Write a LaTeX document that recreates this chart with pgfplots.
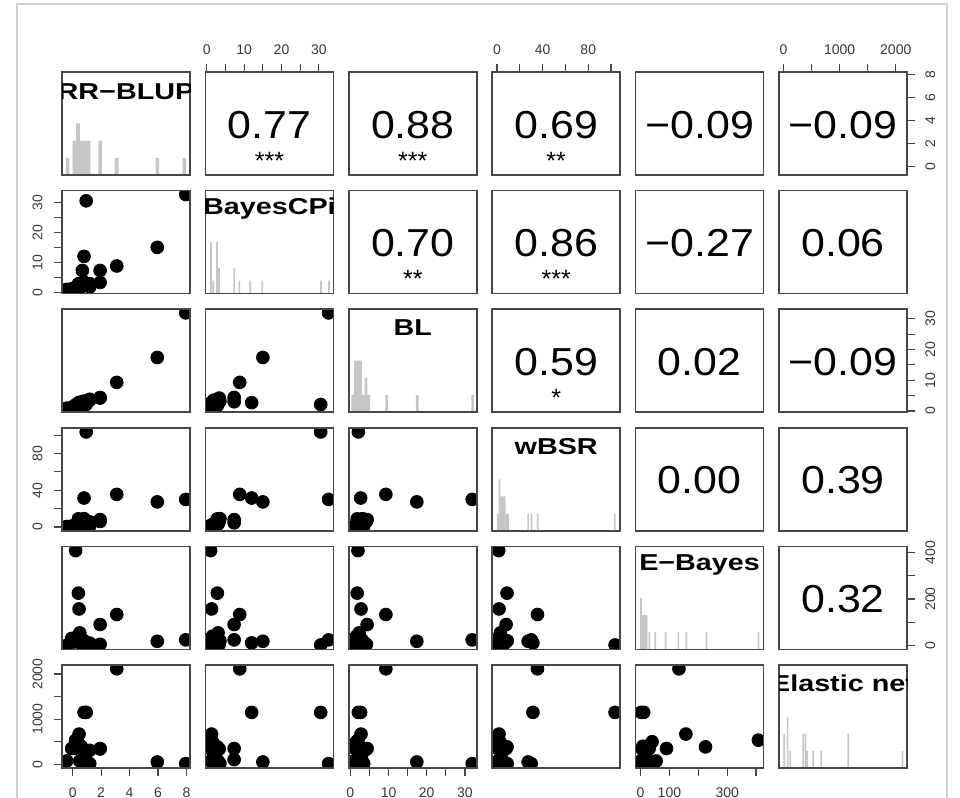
\documentclass[border=0pt]{standalone}
\usepackage{fontspec}
\setmainfont{Liberation Sans}
\usepackage{pgfplots}
\usepackage{pgfplotstable}
\pgfplotsset{compat=1.18}

\pgfplotstableread{
R C L W E N
7.95 32.6 31.9 30 24 15
5.95 15 17.4 27.3 18 52
3.1 8.8 9.3 35.5 133 2115
0.95 30.5 2.1 103.5 2 1150
0.8 12 2.7 31.5 11 1150
1.93 7.3 4.4 8 90 350
0.68 7.3 3.0 4.5 24 105
0.21 1.0 2.0 1.5 408 535
0.4 2.8 1.8 8.8 225 386
0.45 1.25 2.8 1.8 157 670
1.93 3.3 4.2 6 5 340
1.2 2.9 3.8 5.5 10 310
1.2 1.8 3.5 1 3 15
-0.42 1.0 0.9 0.5 0 73
-0.07 1.2 1.2 1 30 350
0.5 3.0 2.3 3 54 73
0.8 3.5 3.2 9 20 15
0.35 1.5 1.6 2.5 40 500
0.6 2.0 2.2 4 8 400
0.1 0.8 1.4 0.8 15 350
}\data

\pgfplotstableread{
x c
-0.35 1
0.125 2
0.375 3
0.625 2
0.875 2
1.125 2
1.93 2
3.1 1
5.95 1
7.85 1
}\hR
\pgfplotstableread{
x c
1.1 4
1.7 1
2.7 4
3.25 2
7.3 2
8.7 1
11.6 1
14.8 1
30.6 1
32.7 1
}\hC
\pgfplotstableread{
x c
0.6 1
1.3 3
2.0 3
2.7 3
3.4 1
4.1 2
4.8 1
9.5 1
17.5 1
32.0 1
}\hL
\pgfplotstableread{
x c
0.75 1
2.25 3
3.75 2
5.25 2
6.75 2
8.25 1
9.75 1
27.3 1
30.2 1
35.8 1
103.3 1
}\hW
\pgfplotstableread{
x c
2 3
9 2
15 2
21 2
31 1
51 1
87 1
131 1
158 1
228 1
408 1
}\hE
\pgfplotstableread{
x c
10 2
72 3
120 1
348 2
389 2
420 1
527 1
670 1
1154 2
2120 1
}\hN

\pgfplotsset{
 panel/.style={scale only axis, width=64pt, height=51.5pt, anchor=north west,
   axis line style={black!72, line width=0.75pt}, xtick=\empty, ytick=\empty,
   tick align=outside, major tick length=4.2pt,
   tick style={black!72, line width=0.6pt},
   ticklabel style={font=\fontsize{7}{8}\selectfont, text=black!78},
   clip marker paths=true, axis on top},
 pts/.style={only marks, mark=*, mark size=3.2pt, mark options={fill=black, draw=black}},
 xR/.style={xmin=-0.75,xmax=8.25}, yR/.style={ymin=-0.75,ymax=8.25},
 xC/.style={xmin=-0.4,xmax=33.9}, yC/.style={ymin=-0.4,ymax=33.9},
 xL/.style={xmin=-0.4,xmax=33.1}, yL/.style={ymin=-0.4,ymax=33.1},
 xW/.style={xmin=-4.2,xmax=108}, yW/.style={ymin=-4.2,ymax=108},
 xE/.style={xmin=-17,xmax=426}, yE/.style={ymin=-17,ymax=426},
 xN/.style={xmin=-82,xmax=2200}, yN/.style={ymin=-82,ymax=2200},
 topC/.style={xtick pos=right, xticklabel pos=right, xticklabel shift=1pt, xtick={0,5,...,30}, xticklabels={0,,10,,20,,30}},
 topW/.style={xtick pos=right, xticklabel pos=right, xticklabel shift=1pt, xtick={0,20,...,100}, xticklabels={0,,40,,80,}},
 topN/.style={xtick pos=right, xticklabel pos=right, xticklabel shift=1pt, xtick={0,500,...,2000}, xticklabels={0,,1000,,2000}},
 botR/.style={xtick pos=left, xticklabel pos=left, xticklabel shift=2pt, xtick={0,2,4,6,8}, xticklabels={0,2,4,6,8}},
 botL/.style={xtick pos=left, xticklabel pos=left, xticklabel shift=2pt, xtick={0,5,...,30}, xticklabels={0,,10,,20,,30}},
 botE/.style={xtick pos=left, xticklabel pos=left, xticklabel shift=2pt, xtick={0,100,...,400}, xticklabels={0,100,,300,}},
 leftC/.style={ytick pos=left, yticklabel pos=left, yticklabel shift=2pt, ytick={0,5,...,30}, yticklabels={0,,10,,20,,30}, yticklabel style={rotate=90, anchor=south}},
 leftW/.style={ytick pos=left, yticklabel pos=left, yticklabel shift=2pt, ytick={0,20,...,100}, yticklabels={0,,40,,80,}, yticklabel style={rotate=90, anchor=south}},
 leftN/.style={ytick pos=left, yticklabel pos=left, yticklabel shift=2pt, ytick={0,500,...,2000}, yticklabels={0,,1000,,2000}, yticklabel style={rotate=90, anchor=south}},
 rightR/.style={ytick pos=right, yticklabel pos=right, yticklabel shift=1.5pt, ytick={0,2,4,6,8}, yticklabels={0,2,4,6,8}, yticklabel style={rotate=90, anchor=north}},
 rightL/.style={ytick pos=right, yticklabel pos=right, yticklabel shift=1.5pt, ytick={0,5,...,30}, yticklabels={0,,10,,20,,30}, yticklabel style={rotate=90, anchor=north}},
 rightE/.style={ytick pos=right, yticklabel pos=right, yticklabel shift=1.5pt, ytick={0,100,...,400}, yticklabels={0,,200,,400}, yticklabel style={rotate=90, anchor=north}},
}

\newcommand\scat[4]{\begin{axis}[panel,at={(#1)},x#2,y#3,#4]\addplot[pts] table[x=#2,y=#3]{\data};\end{axis}}
\newcommand\hist[5]{\begin{axis}[panel,at={(#1)},x#2,ymin=0,ymax=#5]\addplot[ybar,bar width=#4,bar shift=0pt,fill=gray!45,draw=none] table[x=x,y=c]{#3};\end{axis}}
\newcommand\upper[2]{\begin{axis}[panel,at={(#1)},#2]\end{axis}}
\newcommand\corr[4]{\node[anchor=base,inner sep=0,xscale=1.1,font=\fontsize{19.5}{20}\selectfont] at (#1pt+32pt,#2pt-33pt) {#3};
  \node[anchor=base,inner sep=0,font=\fontsize{12.5}{13}\selectfont] at (#1pt+32pt,#2pt-48.5pt) {#4};}
\newcommand\lab[4]{\begin{scope}\clip (#1pt,#2pt) rectangle ++(64pt,-51.5pt);
  \node[anchor=base,inner sep=0,xscale=1.25,font=\bfseries\fontsize{11.5}{12}\selectfont] at (#1pt+32pt,#2pt-#3pt) {#4};\end{scope}}

\begin{document}
\begin{tikzpicture}
\useasboundingbox (0,0) rectangle (480pt,-399pt);
\draw[black!18, line width=0.6pt] (8.5pt,-399pt) -- (8.5pt,-2pt) -- (473.5pt,-2pt) -- (473.5pt,-399pt);

% row 0
\hist{31pt,-36pt}{R}{\hR}{0.25}{6}
\upper{102.7pt,-36pt}{xC,yR,topC}
\upper{174.4pt,-36pt}{xL,yR}
\upper{246.1pt,-36pt}{xW,yR,topW}
\upper{317.8pt,-36pt}{xE,yR}
\upper{389.5pt,-36pt}{xN,yR,topN,rightR}
% row 1
\scat{31pt,-95.3pt}{R}{C}{leftC}
\hist{102.7pt,-95.3pt}{C}{\hC}{0.45}{8}
\upper{174.4pt,-95.3pt}{xL,yC}
\upper{246.1pt,-95.3pt}{xW,yC}
\upper{317.8pt,-95.3pt}{xE,yC}
\upper{389.5pt,-95.3pt}{xN,yC}
% row 2
\scat{31pt,-154.6pt}{R}{L}{}
\scat{102.7pt,-154.6pt}{C}{L}{}
\hist{174.4pt,-154.6pt}{L}{\hL}{0.7}{6}
\upper{246.1pt,-154.6pt}{xW,yL}
\upper{317.8pt,-154.6pt}{xE,yL}
\upper{389.5pt,-154.6pt}{xN,yL,rightL}
% row 3
\scat{31pt,-213.9pt}{R}{W}{leftW}
\scat{102.7pt,-213.9pt}{C}{W}{}
\scat{174.4pt,-213.9pt}{L}{W}{}
\hist{246.1pt,-213.9pt}{W}{\hW}{1.5}{6}
\upper{317.8pt,-213.9pt}{xE,yW}
\upper{389.5pt,-213.9pt}{xN,yW}
% row 4
\scat{31pt,-273.2pt}{R}{E}{}
\scat{102.7pt,-273.2pt}{C}{E}{}
\scat{174.4pt,-273.2pt}{L}{E}{}
\scat{246.1pt,-273.2pt}{W}{E}{}
\hist{317.8pt,-273.2pt}{E}{\hE}{6}{6}
\upper{389.5pt,-273.2pt}{xN,yE,rightE}
% row 5
\scat{31pt,-332.5pt}{R}{N}{leftN,botR}
\scat{102.7pt,-332.5pt}{C}{N}{}
\scat{174.4pt,-332.5pt}{L}{N}{botL}
\scat{246.1pt,-332.5pt}{W}{N}{}
\scat{317.8pt,-332.5pt}{E}{N}{botE}
\hist{389.5pt,-332.5pt}{N}{\hN}{30}{6}

% labels
\lab{31}{-36}{13.5}{RR−BLUP}
\lab{102.7}{-95.3}{12}{BayesCPi}
\lab{174.4}{-154.6}{13.3}{BL}
\lab{246.1}{-213.9}{13.3}{wBSR}
\lab{317.8}{-273.2}{12}{E−Bayes}
\lab{389.5}{-332.5}{13.3}{Elastic net}

% correlations
\corr{102.7}{-36}{0.77}{***}
\corr{174.4}{-36}{0.88}{***}
\corr{246.1}{-36}{0.69}{**}
\corr{317.8}{-36}{−0.09}{}
\corr{389.5}{-36}{−0.09}{}
\corr{174.4}{-95.3}{0.70}{**}
\corr{246.1}{-95.3}{0.86}{***}
\corr{317.8}{-95.3}{−0.27}{}
\corr{389.5}{-95.3}{0.06}{}
\corr{246.1}{-154.6}{0.59}{*}
\corr{317.8}{-154.6}{0.02}{}
\corr{389.5}{-154.6}{−0.09}{}
\corr{317.8}{-213.9}{0.00}{}
\corr{389.5}{-213.9}{0.39}{}
\corr{389.5}{-273.2}{0.32}{}
\end{tikzpicture}
\end{document}
